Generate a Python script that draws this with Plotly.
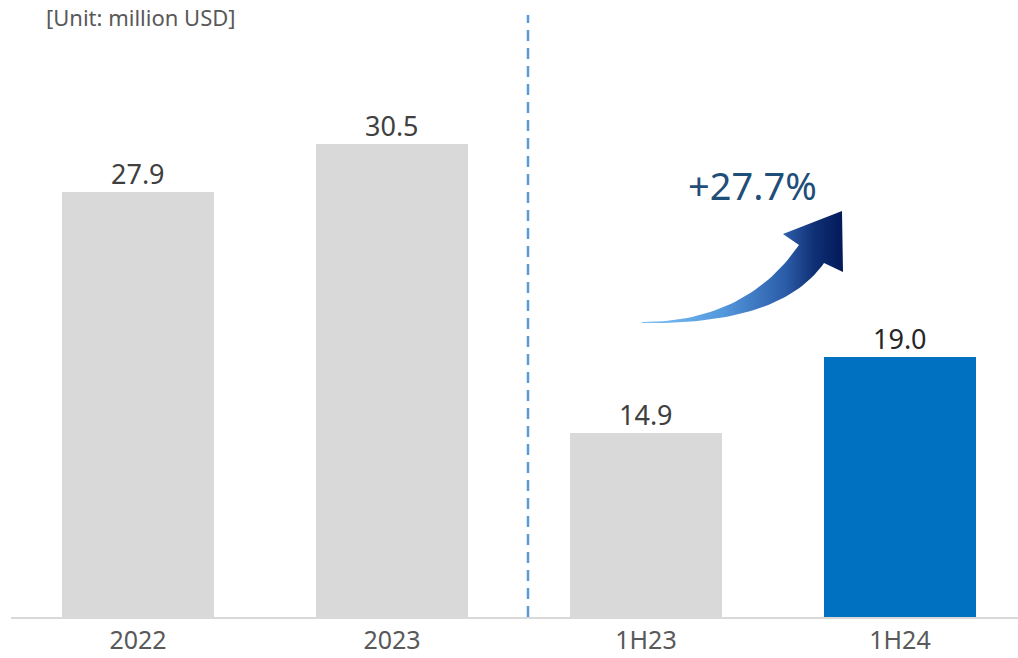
import numpy as np
import plotly.graph_objects as go

# Revenue figures (million USD)
categories = ["2022", "2023", "1H23", "1H24"]
values = [27.9, 30.5, 14.9, 19.0]
growth_label = "+27.7%"

bar_colors = ["#d9d9d9", "#d9d9d9", "#d9d9d9", "#0070c0"]
label_colors = ["#404040", "#404040", "#404040", "#262626"]

FONT = "Noto Sans"
W, H = 1018, 658
ML, MR, MT, MB = 11, 0, 0, 41
PLOT_W = W - ML - MR
PLOT_H = H - MT - MB
STEP = 254.0            # pixels per category
Y0 = 5.0                # value axis starts here
PX_PER_UNIT = 18.55
X_RANGE = [-0.5, -0.5 + PLOT_W / STEP]
Y_RANGE = [Y0, Y0 + PLOT_H / PX_PER_UNIT]


def to_x(px):
    return X_RANGE[0] + (px - ML) / STEP


def to_y(py):
    return Y_RANGE[0] + (MT + PLOT_H - py) / PX_PER_UNIT


fig = go.Figure()

fig.add_trace(go.Bar(
    x=list(range(len(categories))),
    y=values,
    width=0.595,
    marker=dict(color=bar_colors, line=dict(width=0)),
    hoverinfo="skip",
    showlegend=False,
))

# Value labels above each bar
for i, v in enumerate(values):
    fig.add_annotation(
        x=i, y=v, text=f"{v:.1f}", showarrow=False,
        xref="x", yref="y", yanchor="bottom", yshift=-2,
        font=dict(family=FONT, size=27, color=label_colors[i]),
    )


# Curved growth arrow with a left-to-right colour gradient
def quad_bezier(p0, p1, p2, n=40):
    t = np.linspace(0, 1, n)[:, None]
    p0, p1, p2 = map(np.array, (p0, p1, p2))
    return (1 - t) ** 2 * p0 + 2 * (1 - t) * t * p1 + t ** 2 * p2


upper = quad_bezier((642, 322), (746, 322), (799, 245))
lower = quad_bezier((642, 323), (781, 325), (824, 263))
head = np.array([(799, 245), (783, 234), (842, 211), (843, 272), (824, 263)])
outline = np.vstack([upper, head, lower[::-1]])

fig.add_trace(go.Scatter(
    x=[to_x(p[0]) for p in outline],
    y=[to_y(p[1]) for p in outline],
    mode="lines",
    line=dict(width=0),
    fill="toself",
    fillgradient=dict(
        type="horizontal",
        colorscale=[[0.0, "#7cc1f5"], [0.4, "#5498dd"], [0.72, "#2a5ba6"], [0.86, "#0f2f74"], [1.0, "#031a5a"]],
    ),
    hoverinfo="skip",
    showlegend=False,
))

fig.add_annotation(
    x=to_x(752), y=to_y(185), text=growth_label, showarrow=False,
    xref="x", yref="y", xanchor="center", yanchor="middle",
    font=dict(family=FONT, size=38, color="#1f4e79"),
)

# Divider between annual and half-year figures
fig.add_shape(
    type="line", xref="x", yref="paper",
    x0=to_x(528), x1=to_x(528), y0=0, y1=(PLOT_H - 15) / PLOT_H,
    line=dict(color="#5b9bd5", width=2.5, dash="11px,7px"),
)

fig.add_annotation(
    x=(44 - ML) / PLOT_W, y=1 - 17 / PLOT_H, xref="paper", yref="paper",
    text="[Unit: million USD]", showarrow=False,
    xanchor="left", yanchor="middle",
    font=dict(family=FONT, size=22, color="#595959"),
)

fig.update_layout(
    width=W, height=H,
    margin=dict(l=ML, r=MR, t=MT, b=MB, pad=0, autoexpand=False),
    paper_bgcolor="white", plot_bgcolor="white",
    bargap=0,
    xaxis=dict(
        range=X_RANGE, tickmode="array",
        tickvals=list(range(len(categories))), ticktext=categories,
        showgrid=False, zeroline=False, automargin=False,
        showline=True, linecolor="#d9d9d9", linewidth=2,
        ticks="", ticklabelstandoff=0,
        tickfont=dict(family=FONT, size=25, color="#595959"),
        fixedrange=True,
    ),
    yaxis=dict(
        range=Y_RANGE, visible=False, showgrid=False, zeroline=False,
        automargin=False, fixedrange=True,
    ),
)

fig.write_html("out.html", config={"displayModeBar": False})
